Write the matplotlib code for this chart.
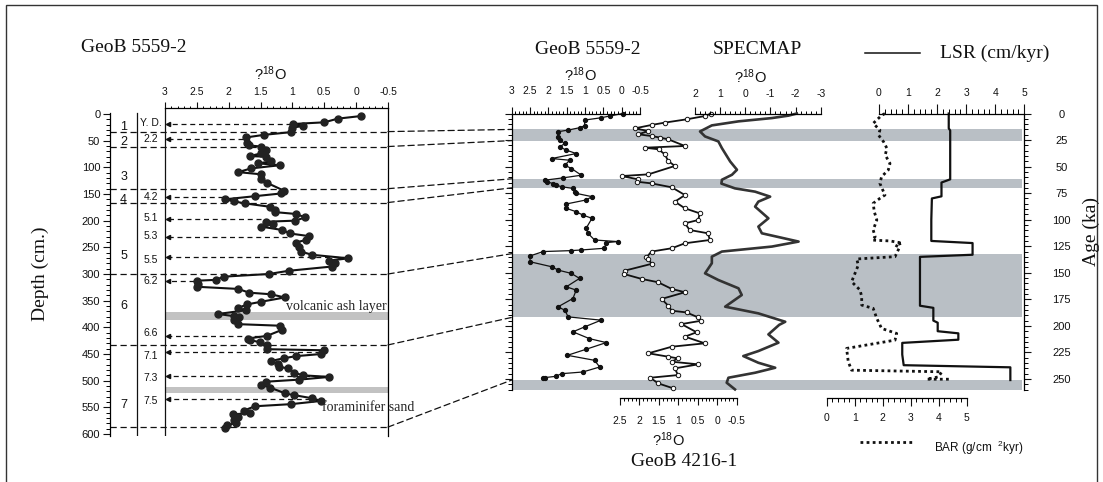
"""GeoB 5559-2 / GeoB 4216-1 oxygen isotope stratigraphy with SPECMAP, LSR and BAR."""

import matplotlib
matplotlib.use("Agg")
import matplotlib.pyplot as plt
from matplotlib.lines import Line2D
from matplotlib.patches import ConnectionPatch, Rectangle
from matplotlib.ticker import FixedLocator, FuncFormatter
import numpy as np

W, H = 1103, 482
SERIF, SANS = "Liberation Serif", "Liberation Sans"
INK, SPEC_INK = "#111111", "#333333"
BAND_CORE, BAND_AGE = "#c2c2c2", "#b9bfc5"

plt.rcParams["font.family"] = SANS
plt.rcParams["axes.unicode_minus"] = False
plt.rcParams["mathtext.fontset"] = "custom"
plt.rcParams["mathtext.rm"] = SANS
plt.rcParams["mathtext.it"] = SANS

# --- GeoB 5559-2 d18O against core depth (cm)
core_depth = [3.75, 8.75, 15.6, 18.75, 22.5, 25.6, 34, 39, 44, 54, 59, 61, 67.5, 74,
              79, 80, 89, 92.5, 96, 102, 109, 113, 122.5, 129, 144, 149, 154, 160,
              164, 167.5, 174, 180, 184, 187.5, 194, 200, 202, 207, 211, 217.5, 224,
              229, 236, 241, 249, 258, 264, 270.6, 275, 279, 286, 294, 300, 305, 311,
              312.5, 319, 324, 328, 335, 338, 344, 352, 357, 364, 368, 375, 379, 381,
              386, 394, 397, 405, 416, 421, 424, 428, 433, 441, 443, 450, 454, 458,
              463, 469, 474, 477, 485, 490, 493, 498, 502, 508, 513, 524, 527, 533,
              538, 544, 548, 556, 561, 563, 569, 574, 579, 584, 588]
core_d18o = [-0.08, 0.29, 0.5, 0.99, 0.84, 1.0, 1.02, 1.44, 1.73, 1.71, 1.68, 1.49,
             1.42, 1.5, 1.67, 1.41, 1.34, 1.54, 1.19, 1.65, 1.85, 1.5, 1.49, 1.4, 1.13,
             1.18, 1.58, 2.06, 1.91, 1.75, 1.35, 1.28, 1.27, 0.94, 0.8, 0.96, 1.42,
             1.3, 1.5, 1.16, 1.04, 0.74, 0.78, 0.95, 0.9, 0.87, 0.69, 0.12, 0.43,
             0.33, 0.38, 1.06, 1.37, 2.08, 2.2, 2.49, 2.48, 2.49, 1.85, 1.68, 1.34,
             1.12, 1.49, 1.71, 1.86, 1.73, 2.17, 1.92, 1.84, 1.91, 1.86, 1.19, 1.17,
             1.4, 1.7, 1.66, 1.51, 1.4, 1.4, 0.51, 0.55, 0.94, 1.14, 1.33, 1.23, 1.21,
             1.07, 0.98, 0.83, 0.42, 0.89, 1.42, 1.49, 1.35, 1.11, 0.98, 0.69, 0.55,
             1.02, 1.59, 1.76, 1.66, 1.93, 1.85, 1.92, 1.89, 2.02, 2.06]

stage_labels = ["1", "2", "3", "4", "5", "6", "7"]
stage_depth = [24, 52, 118, 161, 266, 360, 546]

substage_labels = ["Y. D.", "2.2", "4.2", "5.1", "5.3", "5.5", "6.2", "6.6", "7.1",
                   "7.3", "7.5"]
substage_text_depth = [17, 47, 156, 195, 229, 274, 314, 411, 454, 495, 539]
substage_arrow_depth = [19, 47, 156, 196, 230, 269, 313, 416, 446, 491, 535]
substage_arrow_from = [1.03, 1.77, 2.09, 1.5, 1.08, 0.14, 2.55, 1.39, 0.56, 0.45, 0.72]

ash_layer = (371, 386)
foram_sand = (512, 523)

# stage boundaries: core depth (cm) -> age (ka)
tie_depth = [33, 61, 140, 166, 300, 433, 587]
tie_age = [15, 25.5, 61.5, 70, 132, 192, 251]

glacial_bands = [(15, 25.5), (61.5, 70), (132, 192), (251, 260)]

# --- GeoB 5559-2 d18O against age (ka)
g5559_age = [0, 2.4, 4, 6.2, 11.5, 13.4, 15.6, 17.2, 21.9, 25.1, 28.2, 31.4, 34.5, 37.7,
             42.4, 44, 48.7, 51.8, 58.1, 60.6, 62.8, 64.4, 66, 67.5, 69, 70.5, 73.8,
             75.2, 78.3, 81.4, 85.2, 89.3, 92.5, 95.6, 98.7, 108.1, 112.8, 119.1,
             120.6, 121.6, 126.9, 128.5, 129.1, 130, 134.1, 139.6, 144.3, 147.5,
             150.6, 155.3, 163.2, 166.3, 174.2, 182.1, 185.2, 191.5, 194.6, 200.9,
             205.6, 212, 215.7, 222, 227.7, 232.4, 238.7, 243.4, 245, 247.5, 248.7,
             249.2]
g5559_d18o = [-0.03, 0.33, 0.56, 1.01, 1.01, 1.15, 1.46, 1.74, 1.74, 1.69, 1.55, 1.69,
              1.51, 1.24, 1.91, 1.42, 1.55, 1.37, 1.1, 1.6, 2.1, 2.03, 1.87, 1.78, 1.64,
              1.33, 1.26, 1.24, 0.81, 0.97, 1.51, 1.51, 1.24, 1.06, 0.81, 0.97, 0.92,
              0.74, 0.11, 0.42, 0.47, 1.1, 1.37, 2.14, 2.5, 2.5, 1.91, 1.73, 1.37, 1.15,
              1.51, 1.24, 1.33, 1.74, 1.55, 1.46, 0.56, 1.01, 1.33, 0.88, 0.42, 0.97,
              1.48, 0.74, 0.6, 1.06, 1.64, 1.8, 2.1, 2.15]

# --- GeoB 4216-1 d18O against age (ka)
g4216_age = [0, 2.4, 5.5, 8.6, 10.8, 14, 16.5, 19.6, 21.2, 22.7, 24.3, 30.6, 32.2, 33.7,
             38.4, 44.7, 49.4, 57.3, 58.9, 62, 64.2, 65.8, 69.5, 76.8, 83, 89.3, 94,
             100.3, 103.4, 109.7, 112.8, 119.1, 122.2, 126.9, 130, 135.4, 136.9, 141.6,
             147.9, 151, 155.8, 158.9, 165.2, 168.3, 174.6, 181, 185.7, 187.3, 192,
             195.1, 198.3, 206, 210.1, 216.4, 219.6, 225.8, 229, 230.6, 233.7, 236.2,
             240, 246.3, 248.8, 254.1, 258.8]
g4216_d18o = [0.15, 0.32, 0.79, 1.35, 1.69, 2.12, 1.77, 2.03, 1.69, 1.47, 1.26, 0.83,
              1.86, 1.51, 1.35, 1.26, 1.09, 1.77, 2.46, 2.03, 2.07, 1.69, 1.17, 0.83,
              1.09, 0.83, 0.45, 0.49, 0.83, 0.71, 0.24, 0.19, 0.83, 1.17, 1.69, 1.82,
              1.77, 1.69, 2.37, 2.41, 1.94, 1.52, 1.17, 0.83, 1.43, 1.26, 1.17, 0.79,
              0.49, 0.41, 0.92, 0.53, 0.83, 0.32, 1.17, 1.77, 1.26, 1.01, 1.17, 0.49,
              1.09, 1.01, 1.72, 1.52, 1.13]

# --- SPECMAP stack
spec_age = [0, 2, 4.3, 7.4, 11.2, 16.9, 21.6, 26.3, 32.6, 45.2, 53, 57.7, 62.4, 66,
            70.5, 73.6, 78.3, 83, 87.7, 98.7, 106.5, 112.8, 120.6, 125.3, 130, 134.8,
            141, 150.5, 156.8, 164.6, 170.9, 181.9, 188.2, 196.1, 199, 208, 215.8,
            223.7, 228.4, 234.7, 239.4, 244.1, 248.8, 253.5, 259.8]
spec_d18o = [-2.05, -1.72, -1.06, 0.27, 1.33, 1.8, 1.6, 1.07, 0.93, 0.6, 0.33, 0.53,
             0.93, 0.95, 0.41, -0.39, -0.99, -0.52, -0.39, -0.92, -0.52, -0.66, -2.12,
             -1.06, 0.93, 1.33, 1.33, 1.6, 1.07, 0.27, 0.14, 0.8, -0.52, -1.59, -1.35,
             -0.92, -1.32, -0.52, 0.08, -0.52, -1.19, -0.39, 0.67, 0.74, 0.41]

# --- linear sedimentation rate (cm/kyr)
lsr_age = [0, 14, 16, 62, 65, 78, 80, 100, 120, 122, 133, 135, 181, 183, 195, 197,
           205, 207, 213, 216, 227, 237, 239, 251]
lsr_val = [2.4, 2.4, 2.45, 2.45, 2.15, 2.15, 1.82, 1.8, 1.8, 3.22, 3.22, 1.41, 1.41,
           1.87, 1.87, 2.02, 2.02, 2.73, 2.73, 0.8, 0.8, 0.85, 4.52, 4.52]

# --- bulk accumulation rate (g/cm2 kyr)
bar_age = [0, 2, 9.3, 15.6, 20.3, 26.6, 32.8, 39.1, 47, 53.2, 59.5, 65.8, 76.8, 79.9,
           84.6, 92.5, 100.3, 109.7, 116, 119.2, 120, 122, 124, 126, 134.8, 137, 142.7,
           158.4, 166.2, 172.5, 180.4, 183.5, 193, 202.4, 207.1, 213.4, 221.2, 233.8,
           241.7, 243.2, 248, 250.2, 250.2]
bar_val = [2.08, 1.95, 1.66, 1.9, 1.85, 2.03, 2.15, 2.09, 2.26, 2.2, 1.96, 1.9, 2.08,
           1.9, 1.66, 1.7, 1.79, 1.66, 1.73, 1.63, 2.26, 2.7, 2.45, 2.6, 2.44, 1.07,
           1.13, 0.89, 1.19, 1.25, 1.25, 1.66, 1.79, 1.96, 2.5, 2.44, 0.71, 0.77, 0.89,
           4.11, 3.99, 3.57, 4.46]

fig = plt.figure(figsize=(W / 100, H / 100), dpi=100, facecolor="white")


def place(x0, y0, x1, y1):
    return fig.add_axes([x0 / W, 1 - y1 / H, (x1 - x0) / W, (y1 - y0) / H])


def xscale(ax, px_a, val_a, px_b, val_b, left, right):
    # map pixel anchors of a printed scale onto the axes' own x limits
    k = (val_b - val_a) / (px_b - px_a)
    ax.set_xlim(val_a + (left - px_a) * k, val_a + (right - px_a) * k)


def clean(ax):
    ax.patch.set_visible(False)
    for s in ax.spines.values():
        s.set_visible(False)
    ax.set_yticks([])
    ax.set_xticks([])


def value_axis(ax, side, lo, hi, major, minor, pad, outward=0, maj_len=4.5, min_len=2.5):
    sp = ax.spines[side]
    sp.set_visible(True)
    sp.set_bounds(min(lo, hi), max(lo, hi))
    sp.set_linewidth(0.9)
    if outward:
        sp.set_position(("outward", outward))
    ax.xaxis.set_ticks_position(side)
    ax.xaxis.set_major_locator(FixedLocator(np.arange(lo, hi + major / 2, major)))
    ax.xaxis.set_minor_locator(FixedLocator(np.arange(lo, hi + minor / 2, minor)))
    ax.xaxis.set_major_formatter(FuncFormatter(lambda v, p: f"{v:g}" if abs(v) > 1e-9 else "0"))
    ax.tick_params(axis="x", which="major", direction="out", length=maj_len, width=0.8,
                   pad=pad, labelsize=7.5, colors=INK)
    ax.tick_params(axis="x", which="minor", direction="out", length=min_len, width=0.7)


def isotope_label(x, y):
    fig.text(x / W, 1 - y / H, "?$^{18}$O", fontsize=10.5, ha="center", va="center",
             color=INK)


# ---------------- left panel: depth domain ----------------
ax1 = place(110, 108, 388, 436)
ax1.patch.set_visible(False)
xscale(ax1, 165, 3, 388, -0.5, 110, 388)
ax1.set_ylim(603.75, -11.25)
for s in ("bottom",):
    ax1.spines[s].set_visible(False)
ax1.spines["left"].set_bounds(-2, 603.75)
ax1.spines["right"].set_linewidth(0.9)
ax1.spines["left"].set_linewidth(0.9)
ax1.yaxis.set_major_locator(FixedLocator(np.arange(0, 601, 50)))
ax1.yaxis.set_minor_locator(FixedLocator(np.arange(0, 601, 10)))
ax1.tick_params(axis="y", which="major", direction="out", length=5, width=0.8, pad=2,
                labelsize=8, colors=INK)
ax1.tick_params(axis="y", which="minor", direction="out", length=3, width=0.7)
value_axis(ax1, "top", -0.5, 3, 0.5, 0.1, 4, maj_len=4.2, min_len=1.8)

ax1.axvline(3, color=INK, lw=0.9)
ax1.plot([3.44, 3.44], [-2, 603.75], color=INK, lw=0.9)
ax1.fill_betweenx(ash_layer, 3, -0.5, color=BAND_CORE, lw=0, zorder=0)
ax1.fill_betweenx(foram_sand, 3, -0.5, color=BAND_CORE, lw=0, zorder=0)

for d in tie_depth:
    ax1.axhline(d, color=INK, lw=0.9, ls=(0, (5, 3)))

for lbl, d in zip(stage_labels, stage_depth):
    ax1.text(3.65, d, lbl, fontsize=9, ha="center", va="center", color=INK)
for lbl, td, ad, frm in zip(substage_labels, substage_text_depth, substage_arrow_depth,
                            substage_arrow_from):
    ax1.text(3.22, td, lbl, fontsize=7.5, ha="center", va="center", color=INK)
    ax1.plot([frm, 2.96], [ad, ad], color=INK, lw=0.9, ls=(0, (4, 3)))
    ax1.plot([2.96], [ad], marker="<", ms=3, color=INK, mec=INK)

ax1.plot(core_d18o, core_depth, color=INK, lw=1.5, marker="o", ms=5, mfc="#222222",
         mec="#222222", zorder=3)
ax1.text(-0.48, 361, "volcanic ash layer", family=SERIF, fontsize=10, ha="right",
         va="center", color="#222222")
ax1.text(0.54, 551, "foraminifer sand", family=SERIF, fontsize=10, ha="left",
         va="center", color="#222222", clip_on=False)

# ---------------- age domain: bands and age scales ----------------
X0, X1, Y0, Y1 = 511.7, 1024.3, 113.5, 390
AGE_MAX = (Y1 - Y0) / 1.062

ax_bg = place(X0, Y0, X1, Y1)
ax_bg.set_xlim(0, 1)
ax_bg.set_ylim(AGE_MAX, 0)
ax_bg.set_xticks([])
for s in ("top", "bottom"):
    ax_bg.spines[s].set_visible(False)
for s in ("left", "right"):
    ax_bg.spines[s].set_linewidth(0.9)
for a0, a1 in glacial_bands:
    ax_bg.axhspan(a0, a1, xmin=0, xmax=0.995, color=BAND_AGE, lw=0, zorder=0)
ax_bg.yaxis.set_major_locator(FixedLocator(np.arange(0, 251, 25)))
ax_bg.yaxis.set_minor_locator(FixedLocator(np.arange(0, 261, 5)))
ax_bg.tick_params(axis="y", which="both", direction="out", left=True, right=True,
                  labelleft=False, labelright=True)
ax_bg.tick_params(axis="y", which="major", length=5.3, width=0.8, pad=21.5,
                  labelsize=8, colors=INK)
ax_bg.tick_params(axis="y", which="minor", length=2.9, width=0.7)
for t in ax_bg.get_yticklabels():
    t.set_ha("center")

for d, a in zip(tie_depth, tie_age):
    fig.add_artist(ConnectionPatch(xyA=(-0.5, d), coordsA=ax1.transData,
                                   xyB=(0, a), coordsB=ax_bg.transData,
                                   color=INK, lw=0.9, ls=(0, (5, 3))))


def age_axes():
    ax = place(X0, Y0, X1, Y1)
    clean(ax)
    ax.set_ylim(AGE_MAX, 0)
    return ax


ax_g1 = age_axes()
xscale(ax_g1, 511.7, 3, 640, -0.5, X0, X1)
value_axis(ax_g1, "top", -0.5, 3, 0.5, 0.1, 7.7, maj_len=5, min_len=2.5)
ax_g1.plot(g5559_d18o, g5559_age, color=INK, lw=0.9, marker="o", ms=2.8, mfc=INK,
           mec=INK, clip_on=False)

ax_g2 = age_axes()
xscale(ax_g2, 620, 2.5, 736.7, -0.5, X0, X1)
value_axis(ax_g2, "bottom", -0.5, 2.5, 0.5, 0.1, 8, outward=6, maj_len=4.8, min_len=2.5)
ax_g2.plot(g4216_d18o, g4216_age, color=INK, lw=1.3, marker="o", ms=3.2, mfc="white",
           mec=INK, mew=0.7, clip_on=False)

ax_sp = age_axes()
xscale(ax_sp, 695, 2, 820.7, -3, X0, X1)
value_axis(ax_sp, "top", -3, 2, 1, 0.2, 5.6, maj_len=5, min_len=2.5)
ax_sp.plot(spec_d18o, spec_age, color=SPEC_INK, lw=1.9, clip_on=False)

ax_lsr = age_axes()
xscale(ax_lsr, 879, 0, 1024.3, 5, X0, X1)
value_axis(ax_lsr, "top", 0, 5, 1, 0.2, 4.3, maj_len=7, min_len=3.5)
ax_lsr.plot(lsr_val, lsr_age, color=INK, lw=1.6, clip_on=False)

ax_bar = age_axes()
xscale(ax_bar, 826.7, 0, 966.7, 5, X0, X1)
value_axis(ax_bar, "bottom", 0, 5, 1, 0.2, 4.8, outward=6, maj_len=6, min_len=3)
ax_bar.plot(bar_val, bar_age, color=INK, lw=2.0, ls=(0, (1, 1.2)), clip_on=False)

# ---------------- titles, axis names, legend keys ----------------
def ftext(x, y, s, **kw):
    kw.setdefault("ha", "center")
    kw.setdefault("va", "center")
    kw.setdefault("color", INK)
    fig.text(x / W, 1 - y / H, s, **kw)


ftext(134, 48, "GeoB 5559-2", family=SERIF, fontsize=14)
isotope_label(270, 74)
ftext(588, 50, "GeoB 5559-2", family=SERIF, fontsize=14)
isotope_label(580, 75)
ftext(757, 50, "SPECMAP", family=SERIF, fontsize=14)
isotope_label(750, 77)
isotope_label(668, 440)
ftext(684, 462, "GeoB 4216-1", family=SERIF, fontsize=14)
ftext(40, 274, "Depth (cm.)", family=SERIF, fontsize=14, rotation=90)
ftext(1091, 232, "Age (ka)", family=SERIF, fontsize=14, rotation=90)

fig.add_artist(Line2D([865 / W, 920 / W], [1 - 53 / H] * 2, color=INK, lw=1.1))
ftext(940, 53, "LSR (cm/kyr)", family=SERIF, fontsize=14, ha="left")
fig.add_artist(Line2D([860 / W, 915 / W], [1 - 442 / H] * 2, color=INK, lw=2.0,
                      ls=(0, (1, 1.2))))
ftext(934, 448, "BAR (g/cm  $^{2}$kyr)", fontsize=8.5, ha="left")

fig.add_artist(Rectangle((6 / W, -0.05), (1097 - 6) / W, 1.05 - 5 / H,
                         transform=fig.transFigure, fill=False, ec="#333333", lw=1.0))

fig.savefig("out.png", dpi=100, facecolor="white")
